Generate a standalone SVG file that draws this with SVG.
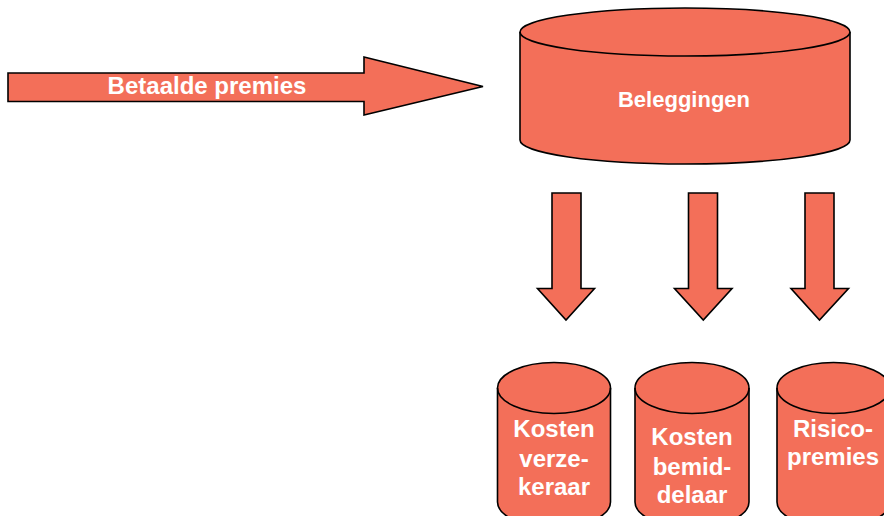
<svg xmlns="http://www.w3.org/2000/svg" width="884" height="516" viewBox="0 0 884 516">
  <style>
    .shape { fill: #F36F59; stroke: #000000; stroke-width: 1.6; stroke-linejoin: miter; }
    .rim { fill: none; stroke: #000000; stroke-width: 1.6; }
    .label { fill: #FFFFFF; font-family: "Liberation Sans", Arial, sans-serif; font-weight: bold; text-anchor: middle; }
  </style>
  <rect width="884" height="516" fill="#FFFFFF"/>

  <g id="connectors">
    <g id="arrow-betaalde-premies">
      <polygon class="shape" points="8,73 364,73 364,57 483,86.5 364,115 364,101.5 8,101.5"/>
      <text class="label" x="207" y="94" font-size="24">Betaalde premies</text>
    </g>
    <polygon id="arrow-1" class="shape" points="552,193 581,193 581,288.5 594.5,288.5 566,320 537.5,288.5 552,288.5"/>
    <polygon id="arrow-2" class="shape" points="688.5,193 717.5,193 717.5,288.5 732,288.5 703.3,320 674.5,288.5 688.5,288.5"/>
    <polygon id="arrow-3" class="shape" points="805,193 834,193 834,288.5 848.5,288.5 819.5,320 791,288.5 805,288.5"/>
  </g>

  <g id="node-beleggingen">
    <path class="shape" d="M520,32 A165,24 0 0 1 850,32 L850,140 A165,24 0 0 1 520,140 Z"/>
    <path class="rim" d="M520,32 A165,24 0 0 0 850,32"/>
    <text class="label" x="684" y="107" font-size="22">Beleggingen</text>
  </g>

  <g id="node-kosten-verzekeraar">
    <path class="shape" d="M497.5,388 A56.5,25.5 0 0 1 610.5,388 L610.5,502 A56.5,25.5 0 0 1 497.5,502 Z"/>
    <path class="rim" d="M497.5,388 A56.5,25.5 0 0 0 610.5,388"/>
    <text class="label" x="554" y="437" font-size="24">Kosten</text>
    <text class="label" x="554" y="466.5" font-size="24">verze-</text>
    <text class="label" x="554" y="495" font-size="24">keraar</text>
  </g>

  <g id="node-kosten-bemiddelaar">
    <path class="shape" d="M635,388 A57,25.5 0 0 1 749,388 L749,502 A57,25.5 0 0 1 635,502 Z"/>
    <path class="rim" d="M635,388 A57,25.5 0 0 0 749,388"/>
    <text class="label" x="692" y="445" font-size="24">Kosten</text>
    <text class="label" x="692" y="474.5" font-size="24">bemid-</text>
    <text class="label" x="692" y="503" font-size="24">delaar</text>
  </g>

  <g id="node-risicopremies">
    <path class="shape" d="M777,388 A56.5,25.5 0 0 1 890,388 L890,502 A56.5,25.5 0 0 1 777,502 Z"/>
    <path class="rim" d="M777,388 A56.5,25.5 0 0 0 890,388"/>
    <text class="label" x="833" y="437" font-size="24">Risico-</text>
    <text class="label" x="833" y="465" font-size="24">premies</text>
  </g>
</svg>
